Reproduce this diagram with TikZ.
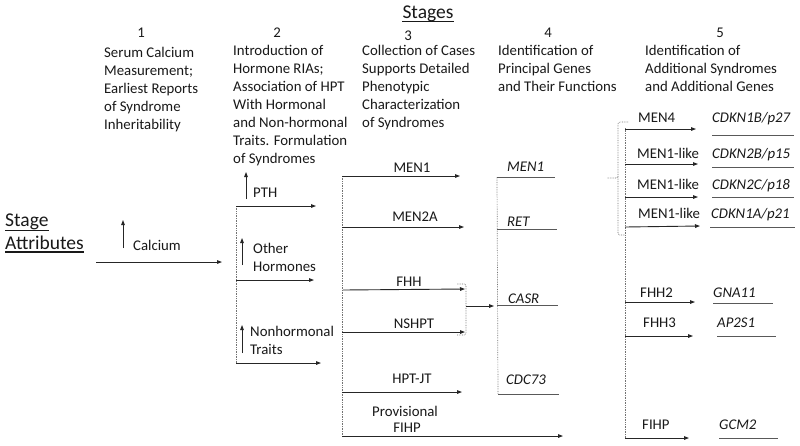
\documentclass[tikz,border=0pt]{standalone}
\usepackage{fontspec}
\setmainfont{Carlito}
\usetikzlibrary{arrows.meta}
\begin{document}
\begin{tikzpicture}[x=1pt,y=-1pt,
  txt/.style={inner sep=0pt,anchor=base west,font=\fontsize{14.8}{18}\selectfont,text=black!90},
  ctxt/.style={txt,anchor=base},
  big/.style={inner sep=0pt,anchor=base west,font=\fontsize{19.5}{23}\selectfont,text=black!90},
  gene/.style={txt,font=\fontsize{14.8}{18}\selectfont\itshape},
  arr/.style={line width=0.9pt,black!85,-{Triangle[length=5pt,width=3.6pt]}},
  gline/.style={line width=1pt,black!65},
  dots/.style={line width=0.7pt,black!55,densely dotted},
  uline/.style={line width=1.1pt,black!90}]
\fill[white] (0,0) rectangle (800,445);
\useasboundingbox (0,0) rectangle (800,445);

% title
\node[big,anchor=base] (title) at (428,18) {Stages};
\draw[uline] ([yshift=-3.8pt]title.base west) -- ([yshift=-3.8pt]title.base east);
\node[big] (sa1) at (5,226) {Stage};
\node[big] (sa2) at (5,249) {Attributes};
\draw[uline] ([yshift=-4.5pt]sa1.base west) -- ([yshift=-4.5pt]sa1.base east);
\draw[uline] ([yshift=-3pt]sa2.base west) -- ([yshift=-3pt]sa2.base east);

% stage numbers
\node[ctxt] (n1) at (141,37) {1};
\node[ctxt] (n2) at (277,37) {2};
\node[ctxt] (n3) at (408,40) {3};
\node[ctxt] (n4) at (548,37) {4};
\node[ctxt] (n5) at (720,37) {5};

% stage headings
\foreach \t [count=\i] in {Serum Calcium,{Measurement;},Earliest Reports,of Syndrome,Inheritability}
  \node[txt] (h1-\i) at (104,{57+18*(\i-1)}) {\t};
\foreach \t [count=\i] in {Introduction of,{Hormone RIAs;},Association of HPT,With Hormonal,and Non-hormonal,Traits. Formulation,of Syndromes}
  \node[txt] (h2-\i) at (233,{55+18*(\i-1)}) {\t};
\foreach \t [count=\i] in {Collection of Cases,Supports Detailed,Phenotypic,Characterization,of Syndromes}
  \node[txt] (h3-\i) at (362,{55+18*(\i-1)}) {\t};
\foreach \t [count=\i] in {Identification of,Principal Genes,and Their Functions}
  \node[txt] (h4-\i) at (498,{55+18*(\i-1)}) {\t};
\foreach \t [count=\i] in {Identification of,Additional Syndromes,and Additional Genes}
  \node[txt] (h5-\i) at (645,{55+18*(\i-1)}) {\t};

% stage 1
\coordinate (ca0) at (123,248); \coordinate (ca1) at (123,220);
\draw[arr] (ca0) -- (ca1);
\node[txt] (calc) at (133,250) {Calcium};
\coordinate (m0) at (96,262); \coordinate (m1) at (222,262);
\draw[arr] (m0) -- (m1);

% stage 2
\coordinate (d2t) at (236,206); \coordinate (d2b) at (236,363);
\draw[dots] (d2t) -- (d2b);
\coordinate (p0) at (246,199); \coordinate (p1) at (246,172);
\draw[arr] (p0) -- (p1);
\node[txt] (pth) at (253,197) {PTH};
\coordinate (pe) at (316,206);
\draw[arr] (d2t) -- (pe);
\coordinate (o0) at (242,265); \coordinate (o1) at (242,238);
\draw[arr] (o0) -- (o1);
\node[txt] (oth1) at (253,253) {Other};
\node[txt] (oth2) at (253,271) {Hormones};
\coordinate (os) at (236,280); \coordinate (oe) at (314,280);
\draw[arr] (os) -- (oe);
\coordinate (t0) at (242,353); \coordinate (t1) at (242,325);
\draw[arr] (t0) -- (t1);
\node[txt] (nh1) at (250,336) {Nonhormonal};
\node[txt] (nh2) at (250,354) {Traits};
\coordinate (te) at (321,363);
\draw[arr] (d2b) -- (te);

% stage 3
\coordinate (d3t) at (342,176); \coordinate (d3b) at (342,436);
\draw[dots] (d3t) -- (d3b);
\node[ctxt] (l-men1) at (412,172) {MEN1};
\coordinate (e-men1) at (460,176);
\draw[arr] (d3t) -- (e-men1);
\node[ctxt] (l-men2a) at (415,221) {MEN2A};
\coordinate (s-men2a) at (342,227); \coordinate (e-men2a) at (464,227);
\draw[arr] (s-men2a) -- (e-men2a);
\node[ctxt] (l-fhh) at (409,286) {FHH};
\coordinate (s-fhh) at (343,290); \coordinate (e-fhh) at (465,289);
\draw[arr] (s-fhh) -- (e-fhh);
\node[ctxt] (l-nshpt) at (414,328) {NSHPT};
\coordinate (s-nshpt) at (342,332); \coordinate (e-nshpt) at (465,332);
\draw[arr] (s-nshpt) -- (e-nshpt);
\node[ctxt] (l-hptjt) at (412,383) {HPT-JT};
\coordinate (s-hptjt) at (342,392); \coordinate (e-hptjt) at (462,392);
\draw[arr] (s-hptjt) -- (e-hptjt);
\node[ctxt] (l-prov1) at (405,416) {Provisional};
\node[ctxt] (l-prov2) at (407,432) {FIHP};
\coordinate (e-prov) at (563,436);
\draw[arr] (d3b) -- (e-prov);

% FHH / NSHPT bracket
\coordinate (bt) at (457,284); \coordinate (bb) at (457,335);
\coordinate (bm) at (466,306); \coordinate (be) at (494,306);
\draw[dots,rounded corners=2pt] (bt) -- (466,284) -- (466,335) -- (bb);
\draw[arr] (bm) -- (be);

% stage 4
\coordinate (d4t) at (497,177); \coordinate (d4b) at (498,394);
\draw[dots] (d4t) -- (d4b);
\node[gene] (g-men1) at (507,171) {MEN1};
\coordinate (ge-men1) at (555,177);
\draw[gline] (d4t) -- (ge-men1);
\node[gene] (g-ret) at (507,226) {RET};
\coordinate (gs-ret) at (497,229); \coordinate (ge-ret) at (557,229);
\draw[gline] (gs-ret) -- (ge-ret);
\node[gene] (g-casr) at (508,303) {CASR};
\coordinate (gs-casr) at (497,305); \coordinate (ge-casr) at (558,305);
\draw[gline] (gs-casr) -- (ge-casr);
\node[gene] (g-cdc) at (506,384) {CDC73};
\coordinate (ge-cdc) at (559,394);
\draw[gline] (d4b) -- (ge-cdc);

% stage 5 brace
\coordinate (br-tip) at (607,178);
\draw[dots,rounded corners=2pt] (628,122) -- (618,122) -- (618,178) -- (br-tip);
\draw[dots,rounded corners=2pt] (618,176) -- (618,235) -- (626,235);
\coordinate (d5t) at (625,128); \coordinate (d5b) at (625,438);
\draw[dots] (d5t) -- (d5b);

\node[txt] (l-men4) at (638,122) {MEN4};
\coordinate (s-men4) at (625,129); \coordinate (e-men4) at (696,129);
\draw[arr] (s-men4) -- (e-men4);
\node[gene] (g-p27) at (712,122) {CDKN1B/p27};
\coordinate (u0-p27) at (712,135); \coordinate (u1-p27) at (794,135);
\draw[gline] (u0-p27) -- (u1-p27);

\node[txt] (l-ml1) at (637,158) {MEN1-like};
\coordinate (s-ml1) at (625,164); \coordinate (e-ml1) at (698,164);
\draw[arr] (s-ml1) -- (e-ml1);
\node[gene] (g-p15) at (712,158) {CDKN2B/p15};
\coordinate (u0-p15) at (712,167); \coordinate (u1-p15) at (794,167);
\draw[gline] (u0-p15) -- (u1-p15);

\node[txt] (l-ml2) at (637,189) {MEN1-like};
\coordinate (s-ml2) at (625,197); \coordinate (e-ml2) at (698,197);
\draw[arr] (s-ml2) -- (e-ml2);
\node[gene] (g-p18) at (712,189) {CDKN2C/p18};
\coordinate (u0-p18) at (712,197); \coordinate (u1-p18) at (794,197);
\draw[gline] (u0-p18) -- (u1-p18);

\node[txt] (l-ml3) at (638,218) {MEN1-like};
\coordinate (s-ml3) at (625,227); \coordinate (e-ml3) at (700,226);
\draw[arr] (s-ml3) -- (e-ml3);
\node[gene] (g-p21) at (711,218) {CDKN1A/p21};
\coordinate (u0-p21) at (710,227); \coordinate (u1-p21) at (795,227);
\draw[gline] (u0-p21) -- (u1-p21);

\node[txt] (l-fhh2) at (640,297) {FHH2};
\coordinate (s-fhh2) at (625,302); \coordinate (e-fhh2) at (695,302);
\draw[arr] (s-fhh2) -- (e-fhh2);
\node[gene] (g-gna) at (713,297) {GNA11};
\coordinate (u0-gna) at (713,303); \coordinate (u1-gna) at (773,303);
\draw[gline] (u0-gna) -- (u1-gna);

\node[txt] (l-fhh3) at (643,327) {FHH3};
\coordinate (s-fhh3) at (625,336); \coordinate (e-fhh3) at (693,336);
\draw[arr] (s-fhh3) -- (e-fhh3);
\node[gene] (g-ap2) at (717,327) {AP2S1};
\coordinate (u0-ap2) at (717,336); \coordinate (u1-ap2) at (776,336);
\draw[gline] (u0-ap2) -- (u1-ap2);

\node[txt] (l-fihp) at (642,429) {FIHP};
\coordinate (e-fihp) at (689,438);
\draw[arr] (d5b) -- (e-fihp);
\node[gene] (g-gcm) at (719,429) {GCM2};
\coordinate (u0-gcm) at (719,438); \coordinate (u1-gcm) at (778,438);
\draw[gline] (u0-gcm) -- (u1-gcm);
\end{tikzpicture}
\end{document}
